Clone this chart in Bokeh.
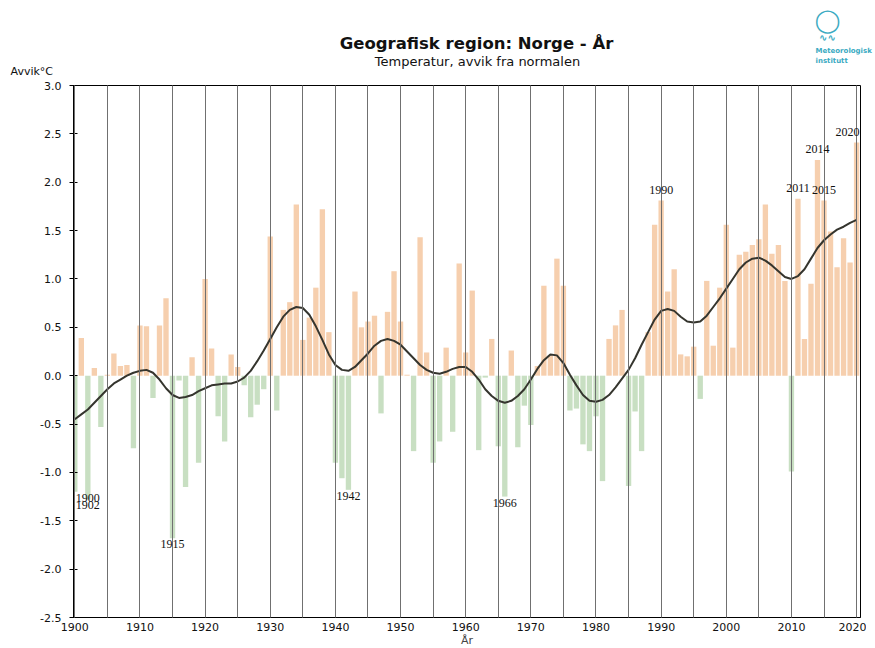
from bokeh.plotting import figure
from bokeh.layouts import column
from bokeh.models import (ColumnDataSource, Range1d, FixedTicker, PrintfTickFormatter,
                          Label, LabelSet)
from bokeh.embed import file_html
from bokeh.resources import INLINE

# ---------------- data ----------------
years = list(range(1900, 2021))

anomaly = [
    -1.20, 0.39, -1.28, 0.08, -0.53, 0.01, 0.23, 0.10, 0.11, -0.75,   # 1900-1909
    0.52, 0.51, -0.23, 0.52, 0.80, -1.68, -0.05, -1.15, 0.19, -0.90,  # 1910-1919
    1.00, 0.28, -0.42, -0.68, 0.22, 0.09, -0.10, -0.43, -0.30, -0.14, # 1920-1929
    1.44, -0.36, 0.68, 0.76, 1.77, 0.37, 0.60, 0.91, 1.72, 0.45,      # 1930-1939
    -0.90, -1.06, -1.18, 0.87, 0.50, 0.56, 0.62, -0.39, 0.66, 1.08,   # 1940-1949
    0.56, 0.01, -0.78, 1.43, 0.24, -0.90, -0.68, 0.29, -0.58, 1.16,   # 1950-1959
    0.24, 0.88, -0.77, -0.02, 0.38, -0.73, -1.25, 0.26, -0.74, -0.31, # 1960-1969
    -0.51, 0.10, 0.93, 0.21, 1.21, 0.93, -0.36, -0.34, -0.71, -0.78,  # 1970-1979
    -0.42, -1.09, 0.38, 0.52, 0.68, -1.14, -0.37, -0.78, 0.45, 1.56,  # 1980-1989
    1.81, 0.87, 1.10, 0.22, 0.20, 0.30, -0.24, 0.98, 0.31, 0.91,      # 1990-1999
    1.56, 0.29, 1.25, 1.28, 1.35, 1.41, 1.77, 1.26, 1.35, 0.98,       # 2000-2009
    -0.99, 1.83, 0.38, 0.95, 2.23, 1.81, 1.49, 1.12, 1.42, 1.17,      # 2010-2019
    2.41,                                                             # 2020
]

smooth = [
    -0.45, -0.40, -0.35, -0.28, -0.21, -0.14, -0.08, -0.04, 0.00, 0.03,
    0.05, 0.06, 0.03, -0.04, -0.13, -0.20, -0.23, -0.22, -0.20, -0.16,
    -0.13, -0.10, -0.09, -0.08, -0.08, -0.06, -0.02, 0.05, 0.15, 0.26,
    0.38, 0.50, 0.61, 0.68, 0.71, 0.70, 0.63, 0.51, 0.37, 0.22,
    0.11, 0.06, 0.05, 0.09, 0.16, 0.23, 0.31, 0.36, 0.38, 0.36,
    0.32, 0.25, 0.18, 0.11, 0.06, 0.03, 0.02, 0.04, 0.07, 0.09,
    0.09, 0.04, -0.04, -0.14, -0.21, -0.26, -0.28, -0.26, -0.21, -0.14,
    -0.04, 0.07, 0.16, 0.22, 0.21, 0.13, 0.01, -0.10, -0.20, -0.26,
    -0.27, -0.25, -0.20, -0.12, -0.03, 0.06, 0.18, 0.32, 0.45, 0.58,
    0.67, 0.69, 0.67, 0.61, 0.56, 0.55, 0.56, 0.62, 0.71, 0.80,
    0.90, 1.00, 1.10, 1.17, 1.21, 1.22, 1.19, 1.14, 1.08, 1.02,
    1.00, 1.03, 1.10, 1.21, 1.32, 1.40, 1.46, 1.51, 1.54, 1.58,
    1.61,
]

label_years_below = [1900, 1902, 1915, 1942, 1966]
label_years_above = [1990, 2011, 2014, 2015, 2020]

x_ticks = list(range(1900, 2021, 10))
x_minor_ticks = list(range(1905, 2021, 10))
grid_years = list(range(1900, 2021, 5))
y_ticks = [-2.5, -2.0, -1.5, -1.0, -0.5, 0.0, 0.5, 1.0, 1.5, 2.0, 2.5, 3.0]

# ---------------- styles ----------------
WARM = "#f6cfae"
COLD = "#c8dfc2"
FONT = "DejaVu Sans"
TEAL = "#3aaac2"
label_dx = {1900: 13, 2020: -9}   # keep edge labels inside the frame

# ---------------- header (title, subtitle, unit, logo) ----------------
HW, HH = 874, 78
head = figure(frame_width=HW, frame_height=HH, output_backend="svg", toolbar_location=None,
              x_range=Range1d(0, HW), y_range=Range1d(0, HH),
              x_axis_type=None, y_axis_type=None, min_border=0)
head.frame_align = False
head.outline_line_color = None
head.grid.visible = False
head.background_fill_color = "white"
head.border_fill_color = "white"


def lab(text, x, y, size, bold=False, color="#111111", align="center", font=FONT):
    # x, y in header-canvas pixels measured from top-left
    head.add_layout(Label(x=x, y=HH - y, x_units="screen", y_units="screen", text=text,
                          text_font=font, text_font_size=size,
                          text_font_style="bold" if bold else "normal",
                          text_color=color, text_align=align, text_baseline="middle"))


lab("Geografisk region: Norge - År", 476, 43, "16.5px", bold=True)
lab("Temperatur, avvik fra normalen", 477, 61, "13px")
lab("Avvik°C", 10, 71, "11px", align="left")
lab("◯", 827, 19, "23px", color=TEAL)
lab("∿∿", 827, 37, "10px", bold=True, color=TEAL)
lab("Meteorologisk", 815, 50, "7px", bold=True, color=TEAL, align="left")
lab("institutt", 815, 60, "7px", bold=True, color=TEAL, align="left")

# ---------------- main chart ----------------
FW, FH = 787, 532
p = figure(frame_width=FW, frame_height=FH, output_backend="svg", toolbar_location=None,
           x_range=Range1d(1899.8, 2020.6), y_range=Range1d(-2.5, 3.0),
           min_border_left=73, min_border_right=6, min_border_top=7, min_border_bottom=18)
p.frame_align = False

src = ColumnDataSource(dict(
    year=years, val=anomaly,
    color=[WARM if v >= 0 else COLD for v in anomaly],
))
p.vbar(x="year", top="val", bottom=0, width=0.82, source=src,
       fill_color="color", line_color=None)
p.line(years, smooth, line_color="#35352e", line_width=2)

# year annotations
val_of = dict(zip(years, anomaly))
below = ColumnDataSource(dict(
    x=label_years_below, y=[val_of[y] for y in label_years_below],
    text=[str(y) for y in label_years_below],
    dx=[label_dx.get(y, 0) for y in label_years_below]))
above = ColumnDataSource(dict(
    x=label_years_above, y=[val_of[y] for y in label_years_above],
    text=[str(y) for y in label_years_above],
    dx=[label_dx.get(y, 0) for y in label_years_above]))
p.add_layout(LabelSet(x="x", y="y", text="text", source=below, x_offset="dx", y_offset=-2,
                      text_align="center", text_baseline="top",
                      text_font="DejaVu Sans Mono", text_font_size="12px", text_color="#111111"))
p.add_layout(LabelSet(x="x", y="y", text="text", source=above, x_offset="dx", y_offset=7,
                      text_align="center", text_baseline="bottom",
                      text_font="DejaVu Sans Mono", text_font_size="12px", text_color="#111111"))

# grid
p.ygrid.visible = False
p.xgrid.ticker = FixedTicker(ticks=grid_years)
p.xgrid.grid_line_color = "#707070"
p.xgrid.grid_line_width = 1
p.xgrid.level = "guide"

# axes
p.xaxis.ticker = FixedTicker(ticks=x_ticks, minor_ticks=x_minor_ticks)
p.xaxis.major_tick_in = 6
p.xaxis.major_tick_out = 0
p.xaxis.minor_tick_in = 6
p.xaxis.minor_tick_out = 0
p.xaxis.major_label_standoff = 5
p.xaxis.axis_label = "År"
p.xaxis.axis_label_standoff = 0
p.xaxis.axis_label_text_font_style = "normal"
p.xaxis.axis_label_text_font = FONT
p.xaxis.axis_label_text_font_size = "11px"

p.yaxis.ticker = FixedTicker(ticks=y_ticks)
p.yaxis.formatter = PrintfTickFormatter(format="%.1f")
p.yaxis.major_tick_in = 4
p.yaxis.major_tick_out = 4
p.yaxis.major_label_standoff = 8

for ax in (p.xaxis, p.yaxis):
    ax.axis_line_color = "black"
    ax.major_tick_line_color = "black"
    ax.minor_tick_line_color = "black"
    ax.major_label_text_font = FONT
    ax.major_label_text_font_size = "11px"
    ax.major_label_text_color = "#111111"
p.yaxis.minor_tick_line_color = None

p.outline_line_color = "black"
p.outline_line_alpha = 1.0
p.background_fill_color = "white"
p.border_fill_color = "white"

layout = column(head, p, spacing=0)
open("out.html", "w").write(file_html(layout, INLINE))
